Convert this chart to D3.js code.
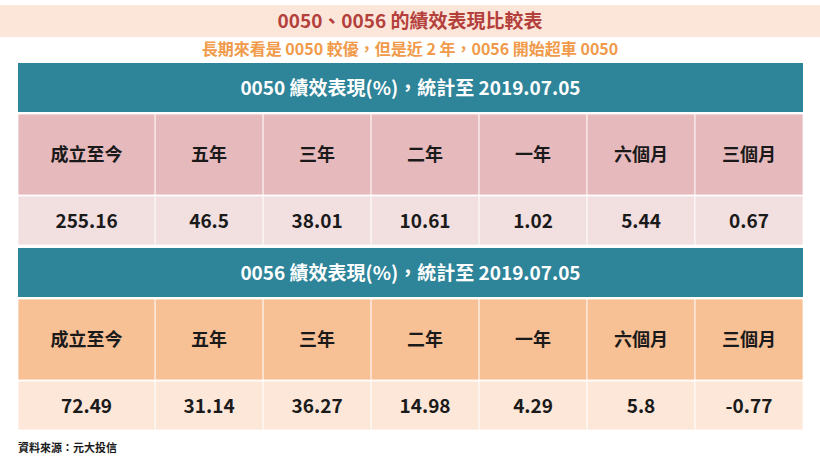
<!DOCTYPE html>
<html><head><meta charset="utf-8">
<script src="https://cdn.jsdelivr.net/npm/d3@7"></script>
<style>body{margin:0;background:#fff}svg{display:block;font-family:"Noto Sans CJK TC","Noto Sans",sans-serif}</style>
</head><body><div id="chart"></div>
<script>
// data
const periods = ["成立至今", "五年", "三年", "二年", "一年", "六個月", "三個月"];
const values0050 = ["255.16", "46.5", "38.01", "10.61", "1.02", "5.44", "0.67"];
const values0056 = ["72.49", "31.14", "36.27", "14.98", "4.29", "5.8", "-0.77"];
const colWeights = [1.27, 1, 1, 1, 1, 1, 1];

const W = 820, H = 462;
const svg = d3.select("#chart").append("svg").attr("width", W).attr("height", H);

// title band
svg.append("rect").attr("x", 0).attr("y", 5).attr("width", W).attr("height", 32).attr("fill", "#fce6da");
svg.append("text").attr("x", W / 2).attr("y", 28).attr("text-anchor", "middle")
  .style("font-size", "19px").style("font-weight", "700").style("fill", "#b4403c")
  .text("0050、0056 的績效表現比較表");
svg.append("text").attr("x", W / 2).attr("y", 55).attr("text-anchor", "middle")
  .style("font-size", "16px").style("font-weight", "700").style("fill", "#f09a4a")
  .text("長期來看是 0050 較優，但是近 2 年，0056 開始超車 0050");

// column scale
const left = 18, right = 803;
const cum = [0];
colWeights.forEach(w => cum.push(cum[cum.length - 1] + w));
const x = d3.scaleLinear().domain([0, cum[cum.length - 1]]).range([left, right]);

const blocks = [
  { title: "0050 績效表現(%)，統計至 2019.07.05", vals: values0050, y: 63, head: "#2e8499", lab: "#e6b9bc", val: "#f2dfe0" },
  { title: "0056 績效表現(%)，統計至 2019.07.05", vals: values0056, y: 248, head: "#2e8499", lab: "#f8c095", val: "#fde7d9" }
];

blocks.forEach(b => {
  svg.append("rect").attr("x", left).attr("y", b.y).attr("width", right - left).attr("height", 49).attr("fill", b.head);
  svg.append("text").attr("x", (left + right) / 2).attr("y", b.y + 32).attr("text-anchor", "middle")
    .style("font-size", "19px").style("font-weight", "700").style("fill", "#fff").text(b.title);

  periods.forEach((p, i) => {
    const x0 = x(cum[i]), x1 = x(cum[i + 1]);
    svg.append("rect").attr("x", x0).attr("y", b.y + 51).attr("width", x1 - x0).attr("height", 81)
      .attr("fill", b.lab).attr("stroke", "#fff").attr("stroke-width", 0.8);
    svg.append("text").attr("x", (x0 + x1) / 2).attr("y", b.y + 98).attr("text-anchor", "middle")
      .style("font-size", "18px").style("font-weight", "700").style("fill", "#1a1a1a").text(p);
    svg.append("rect").attr("x", x0).attr("y", b.y + 133).attr("width", x1 - x0).attr("height", 49)
      .attr("fill", b.val).attr("stroke", "#fff").attr("stroke-width", 0.8);
    svg.append("text").attr("x", (x0 + x1) / 2).attr("y", b.y + 165).attr("text-anchor", "middle")
      .style("font-size", "19px").style("font-weight", "700").style("fill", "#1a1a1a").text(b.vals[i]);
  });
});

svg.append("text").attr("x", 18).attr("y", 452)
  .style("font-size", "11px").style("font-weight", "700").style("fill", "#1a1a1a").text("資料來源：元大投信");
</script></body></html>
